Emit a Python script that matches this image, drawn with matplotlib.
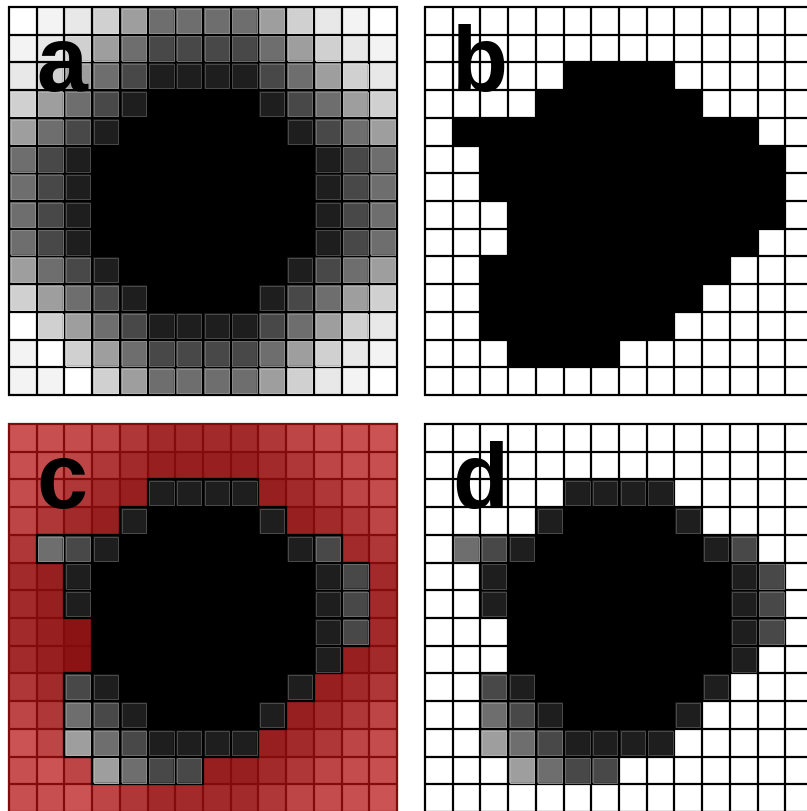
import matplotlib
matplotlib.use("Agg")
import numpy as np
import matplotlib.pyplot as plt
from matplotlib.patches import Rectangle
from matplotlib.colors import to_rgb

# Distance level of every cell (0 = object, 8 = farthest), row by row from the top
LEVELS = [
    "87654333345678",
    "76543222234567",
    "65432111123456",
    "54321000012345",
    "43210000001234",
    "32100000000123",
    "32100000000123",
    "32100000000123",
    "32100000000123",
    "43210000001234",
    "54321000012345",
    "85432111123456",
    "78543222234567",
    "77854333345678",
]

# Binary segmentation mask ('#' = inside)
MASK = [
    "..............",
    "..............",
    ".....####.....",
    "....######....",
    ".###########..",
    "..###########.",
    "..###########.",
    "...##########.",
    "...#########..",
    "..#########...",
    "..########....",
    "..#######.....",
    "...####.......",
    "..............",
]

GRAY_SHADES = ["#000000", "#1e1e1e", "#484848", "#6e6e6e", "#9e9e9e",
               "#d0d0d0", "#e8e8e8", "#f3f3f3", "#ffffff"]
OVERLAY_RED = "#b81010"
OVERLAY_ALPHA = 0.72
PANEL_LABELS = ["a", "b", "c", "d"]

W, H = 807, 812
SIZE = 388          # panel side in pixels
LW = 1.6            # grid line width (pt)
RIM_LW = 0.7
RIM_INSET = 0.06

levels = np.array([[int(ch) for ch in row] for row in LEVELS])
mask = np.array([[ch == "#" for ch in row] for row in MASK])
n = levels.shape[0]
shade_rgb = np.array([to_rgb(c) for c in GRAY_SHADES])

fig = plt.figure(figsize=(W / 100, H / 100), dpi=100)
fig.patch.set_facecolor("white")


def make_axes(left, top):
    ax = fig.add_axes([left / W, 1 - (top + SIZE) / H, SIZE / W, SIZE / H])
    ax.set_xlim(0, n)
    ax.set_ylim(n, 0)
    ax.axis("off")
    return ax


def draw_grid(ax, color="black"):
    ext = 0.04
    ax.vlines(np.arange(n + 1), -ext, n + ext, colors=color, lw=LW, clip_on=False, zorder=3)
    ax.hlines(np.arange(n + 1), -ext, n + ext, colors=color, lw=LW, clip_on=False, zorder=3)


def draw_rims(ax, lev, use):
    for r in range(n):
        for c in range(n):
            if not use[r, c]:
                continue
            k = lev[r, c]
            if k < 1 or k > 5:
                continue
            g = shade_rgb[k]
            rim = g + 0.2 * (1 - g)
            ax.add_patch(Rectangle((c + RIM_INSET, r + RIM_INSET),
                                   1 - 2 * RIM_INSET, 1 - 2 * RIM_INSET,
                                   facecolor="none", edgecolor=rim, lw=RIM_LW,
                                   zorder=4, clip_on=False))


def draw_label(ax, text):
    ax.text(0.97, 3.0, text, fontsize=66, fontweight="bold",
            family=["Liberation Sans", "DejaVu Sans"],
            ha="left", va="baseline", color="black", zorder=10)


gray_img = shade_rgb[levels]
white = np.ones(3)
black = np.zeros(3)
everywhere = np.ones_like(mask)

# a: distance map in gray
ax_a = make_axes(9, 8)
ax_a.imshow(gray_img, extent=(0, n, n, 0), interpolation="nearest", zorder=1)
draw_grid(ax_a)
draw_rims(ax_a, levels, everywhere)
draw_label(ax_a, PANEL_LABELS[0])

# b: binary mask
ax_b = make_axes(425, 8)
mask_img = np.where(mask[..., None], black, white)
ax_b.imshow(mask_img, extent=(0, n, n, 0), interpolation="nearest", zorder=1)
draw_grid(ax_b)
draw_label(ax_b, PANEL_LABELS[1])

# c: distance map with red overlay outside the mask
ax_c = make_axes(9, 425)
ax_c.imshow(gray_img, extent=(0, n, n, 0), interpolation="nearest", zorder=1)
draw_grid(ax_c)
pad = 0.045
for r in range(n):
    for c in range(n):
        if mask[r, c]:
            continue
        x0 = c - (pad if c == 0 else 0)
        x1 = c + 1 + (pad if c == n - 1 else 0)
        y0 = r - (pad if r == 0 else 0)
        y1 = r + 1 + (pad if r == n - 1 else 0)
        ax_c.add_patch(Rectangle((x0, y0), x1 - x0, y1 - y0, facecolor=OVERLAY_RED,
                                 alpha=OVERLAY_ALPHA, edgecolor="none", zorder=5,
                                 clip_on=False))
for r in range(n):
    for c in range(n):
        if mask[r, c]:
            ax_c.add_patch(Rectangle((c, r), 1, 1, facecolor="none", edgecolor="black",
                                     lw=LW, zorder=6, clip_on=False))
draw_rims(ax_c, levels, mask)
for p in ax_c.patches:
    if p.get_zorder() == 4:
        p.set_zorder(7)
draw_label(ax_c, PANEL_LABELS[2])

# d: distance map restricted to the mask
ax_d = make_axes(425, 425)
masked_img = np.where(mask[..., None], gray_img, white)
ax_d.imshow(masked_img, extent=(0, n, n, 0), interpolation="nearest", zorder=1)
draw_grid(ax_d)
draw_rims(ax_d, levels, mask)
draw_label(ax_d, PANEL_LABELS[3])

fig.savefig("out.png", dpi=100)
